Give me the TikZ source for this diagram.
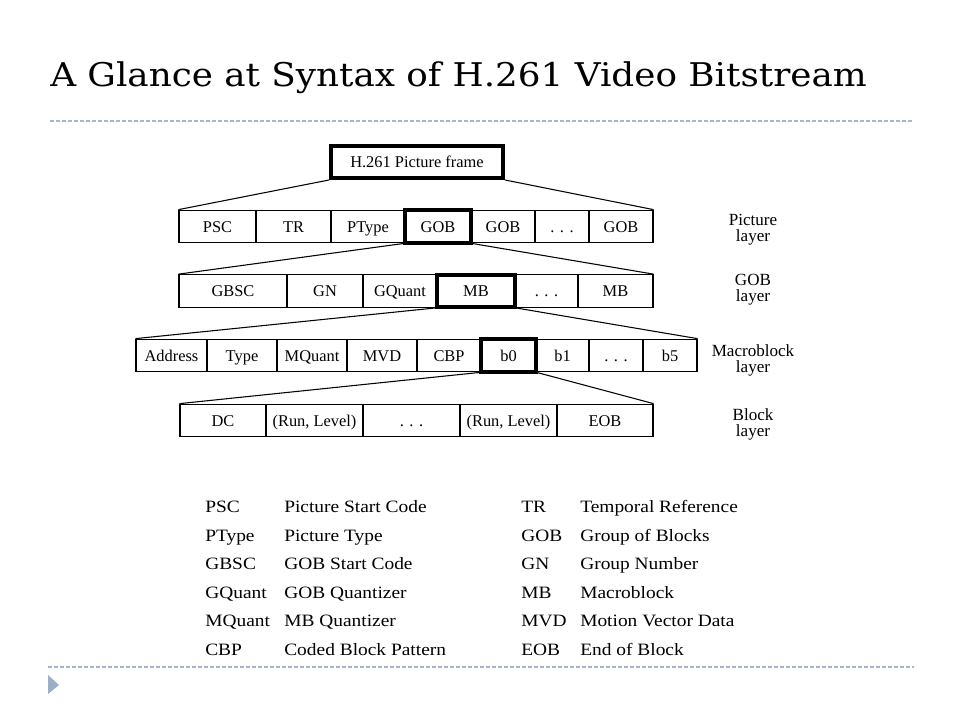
\documentclass[tikz,border=0pt]{standalone}
\usepackage{fontspec}
\setmainfont{Liberation Serif}
\newfontfamily\titlefont[FakeStretch=1.095]{DejaVu Serif}
\newfontfamily\legfont[FakeStretch=1.12]{Liberation Serif}
\usepackage{tikz}

\definecolor{rulegray}{HTML}{A7B6C6}
\definecolor{bulletblue}{HTML}{9BB0C8}

\tikzset{
	cell/.style={draw, line width=0.8pt, inner sep=0pt, minimum height=24.5pt, text height=11pt, text depth=2.6pt, font=\fontsize{12.3}{14}\selectfont},
	sel/.style={draw, line width=3pt, inner sep=0pt, minimum height=24.5pt},
	layer/.style={align=center, font=\fontsize{12.8}{12}\selectfont},
	legend/.style={anchor=west, inner sep=0pt, text height=11.6pt, text depth=2.8pt, font=\legfont\fontsize{13}{14}\selectfont},
	link/.style={line width=0.8pt}
}

\begin{document}
\begin{tikzpicture}[x=0.75pt, y=-0.75pt]
	\useasboundingbox (0,0) rectangle (960,720);

	% Titel
	\node[anchor=base west, inner sep=0pt, font=\titlefont\fontsize{24.5}{28}\selectfont] (title) at (50,87) {A Glance at Syntax of H.261 Video Bitstream};
	\draw[rulegray, line width=0.8pt, dash pattern=on 3pt off 1.5pt] (50,121) -- (914,121);
	\draw[rulegray, line width=0.8pt, dash pattern=on 3pt off 1.5pt] (48,667) -- (914,667);
	\fill[bulletblue] (48,675) -- (59,685) -- (48,694) -- cycle;

	% Picture frame
	\node[sel, minimum width={172*0.75pt}, minimum height=24pt, text height=11pt, text depth=2.6pt, font=\fontsize{12.3}{14}\selectfont] (frame) at (417,162) {H.261 Picture frame};

	% Picture layer
	\foreach \a/\b/\t/\n in {179/256/PSC/psc, 256/331/TR/tr, 331/405/PType/ptype, 405/471/GOB/gobA, 471/535/GOB/gobB, 535/589/. . ./pdots, 589/653/GOB/gobN}
		\node[cell, minimum width={(\b-\a)*0.75pt}] (\n) at ({(\a+\b)/2},226.5) {\t};
	\node[sel, minimum width={66*0.75pt}] at (gobA) {};

	% GOB layer
	\foreach \a/\b/\t/\n in {179/287/GBSC/gbsc, 287/363/GN/gn, 363/437/GQuant/gquant, 437/515/MB/mbA, 515/578/. . ./gdots, 578/653/MB/mbN}
		\node[cell, minimum width={(\b-\a)*0.75pt}] (\n) at ({(\a+\b)/2},291) {\t};
	\node[sel, minimum width={78*0.75pt}] at (mbA) {};

	% Macroblock layer
	\foreach \a/\b/\t/\n in {136/207/Address/addr, 207/277/Type/type, 277/347/MQuant/mquant, 347/417/MVD/mvd, 417/481/CBP/cbp, 481/536/b0/bzero, 536/589/b1/bone, 589/643/. . ./mdots, 643/697/b5/bfive}
		\node[cell, minimum width={(\b-\a)*0.75pt}] (\n) at ({(\a+\b)/2},355.5) {\t};
	\node[sel, minimum width={55*0.75pt}] at (bzero) {};

	% Block layer
	\foreach \a/\b/\t/\n in {180/266/DC/dc, 266/363/{(Run, Level)}/runA, 363/460/. . ./bdots, 460/557/{(Run, Level)}/runB, 557/653/EOB/eob}
		\node[cell, minimum width={(\b-\a)*0.75pt}] (\n) at ({(\a+\b)/2},420.5) {\t};

	% Verbindungen
	\draw[link] (frame.south west) -- (psc.north west);
	\draw[link] (frame.south east) -- (gobN.north east);
	\draw[link] (gobA.south west) -- (gbsc.north west);
	\draw[link] (gobA.south east) -- (mbN.north east);
	\draw[link] (mbA.south west) -- (addr.north west);
	\draw[link] (mbA.south east) -- (bfive.north east);
	\draw[link] (bzero.south west) -- (dc.north west);
	\draw[link] (bzero.south east) -- (eob.north east);

	% Schichten
	\node[layer] (lpic) at (753,230) {Picture\\layer};
	\node[layer] (lgob) at (753,290) {GOB\\layer};
	\node[layer] (lmb) at (753,360) {Macroblock\\layer};
	\node[layer] (lblk) at (753,424) {Block\\layer};

	% Legende
	\foreach \y/\ka/\da/\kb/\db in {507/PSC/Picture Start Code/TR/Temporal Reference,
		535.5/PType/Picture Type/GOB/Group of Blocks,
		564/GBSC/GOB Start Code/GN/Group Number,
		592.5/GQuant/GOB Quantizer/MB/Macroblock,
		621/MQuant/MB Quantizer/MVD/Motion Vector Data,
		649.5/CBP/Coded Block Pattern/EOB/End of Block}
	{
		\node[legend] at (205,\y) {\ka};
		\node[legend] at (284,\y) {\da};
		\node[legend] at (521,\y) {\kb};
		\node[legend] at (580,\y) {\db};
	}
\end{tikzpicture}
\end{document}
